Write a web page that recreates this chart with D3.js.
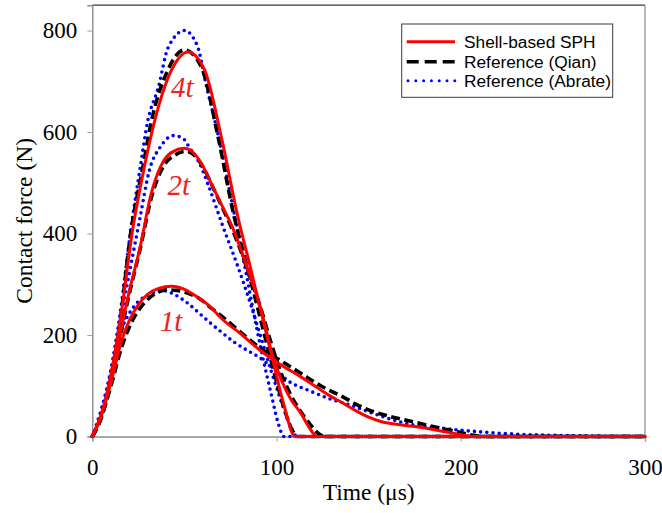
<!DOCTYPE html>
<html>
<head>
<meta charset="utf-8">
<script src="https://cdn.jsdelivr.net/npm/d3@7"></script>
<style>
  html, body { margin: 0; padding: 0; background: #fff; }
  svg { display: block; }
</style>
</head>
<body>
<svg id="chart" width="662" height="513"></svg>
<script>
// ---- data (time in µs, force in N) ----
const xTicks = [0, 100, 200, 300];
const yTicks = [0, 200, 400, 600, 800];
const xTitle = "Time (\u03bcs)";
const yTitle = "Contact force (N)";
const legendNames = ["Shell-based SPH", "Reference (Qian)", "Reference (Abrate)"];

const sph4t = [[0,0],[5,45],[10,120],[15,225],[22,410],[28,527],[34,624],[43,722],[52,758],[61,722],[70,591],[79,433],[85,345],[91,255],[98,150],[104,62],[110,0],[115,0],[300,0]];
const qian4t = [[0,0],[5,40],[10,115],[15,225],[21,405],[27,522],[32,620],[41,722],[50,762],[59,730],[68,595],[77,433],[84,335],[90,250],[97,150],[104,57],[108,16],[112,0],[117,0],[300,0]];
const abrate4t = [[0,0],[5,50],[10,130],[15,240],[21,410],[26,530],[30,620],[36,690],[41,765],[50,800],[57,770],[62,690],[67,615],[72,530],[77,440],[82,350],[87,255],[92,165],[97,85],[101,25],[104,0],[109,0],[300,0]];

const sph2t = [[0,0],[5,42],[10,110],[15,200],[20,285],[26,374],[32,479],[39,545],[44,562],[50,568],[56,555],[60,533],[65,495],[70,458],[76,413],[81,365],[86,312],[91,258],[98,158],[103,108],[108,72],[113,47],[117,22],[120,6],[122,0],[127,0],[300,0]];
const qian2t = [[0,0],[5,38],[10,105],[15,195],[20,280],[26,370],[32,470],[39,535],[45,555],[51,562],[57,548],[61,525],[66,487],[71,448],[76,408],[81,362],[86,310],[91,258],[97,185],[103,120],[108,80],[113,50],[118,25],[122,8],[126,0],[131,0],[300,0]];
const abrate2t = [[0,0],[5,48],[10,125],[15,225],[20,320],[26,433],[31,525],[37,571],[44,593],[49,588],[53,568],[58,540],[63,495],[71,413],[79,335],[86,260],[92,190],[97,130],[102,75],[106,35],[109,10],[111,0],[116,0],[300,0]];

const sph1t = [[0,0],[5,45],[10,105],[16,190],[20,228],[25,260],[30,280],[36,292],[43,296],[50,290],[57,275],[64,256],[70,233],[80,204],[91,170],[102,142],[113,118],[121,99],[129,80],[136,66],[143,51],[150,38],[157,29],[165,24],[174,20],[188,12],[201,3],[206,0],[211,0],[300,0]];
const qian1t = [[0,0],[5,40],[10,98],[16,177],[20,215],[25,248],[30,270],[35,283],[40,289],[46,288],[52,282],[58,272],[65,252],[72,232],[80,207],[91,175],[102,150],[113,125],[124,100],[136,78],[143,64],[151,51],[160,41],[174,29],[188,17],[200,8],[206,3],[212,0],[217,0],[300,0]];
const abrate1t = [[0,0],[5,55],[10,125],[16,212],[20,242],[25,266],[30,278],[35,285],[39,287],[45,279],[52,262],[58,243],[64,224],[70,206],[77,186],[84,170],[91,155],[99,132],[107,108],[118,90],[129,74],[140,62],[152,46],[163,33],[174,23],[188,17],[201,12],[215,8],[228,5],[242,3],[255,2],[270,1],[300,0]];

const caseLabels = ["4t", "2t", "1t"];
const caseLabelPos = [[42.7, 669], [40.8, 476], [36.6, 208]]; // in data units (µs, N)

// ---- chart ----
const svg = d3.select("#chart");
const pL = 92.3, pR = 645, pT = 5.2, pB = 436.5;
const x = d3.scaleLinear().domain([0, 300]).range([pL, pR]);
const y = d3.scaleLinear().domain([0, 850]).range([pB, pT]);

const serif = "'Liberation Serif','Times New Roman',Times,serif";
const sans = "'Liberation Sans',Arial,Helvetica,sans-serif";

// frame
svg.append("line").attr("x1", pL).attr("x2", pR).attr("y1", pT).attr("y2", pT)
  .attr("stroke", "#3a3a3a").attr("stroke-width", 1.2);
svg.append("line").attr("x1", pR).attr("x2", pR).attr("y1", pT).attr("y2", pB)
  .attr("stroke", "#8a8a8a").attr("stroke-width", 1.2);

// axes
const yAxis = d3.axisLeft(y).tickValues(yTicks).tickSize(5).tickPadding(10).tickFormat(d3.format("d"));
const xAxis = d3.axisBottom(x).tickValues(xTicks).tickSize(5).tickPadding(17).tickFormat(d3.format("d"));

const gy = svg.append("g").attr("transform", `translate(${pL},0)`).call(yAxis);
const gx = svg.append("g").attr("transform", `translate(0,${pB})`).call(xAxis);
[gx, gy].forEach(g => {
  g.select(".domain").attr("stroke", "#8c8c8c").attr("stroke-width", 1.4);
  g.selectAll(".tick line").attr("stroke", "#a0a0a0").attr("stroke-width", 1);
  g.selectAll(".tick text").attr("font-family", serif).attr("font-size", 23).attr("fill", "#000");
});

// titles
svg.append("text").attr("x", (pL + pR) / 2).attr("y", 500)
  .attr("text-anchor", "middle").attr("font-family", serif).attr("font-size", 23.5)
  .text(xTitle);
svg.append("text").attr("transform", `translate(32,${(pT + pB) / 2}) rotate(-90)`)
  .attr("text-anchor", "middle").attr("font-family", serif).attr("font-size", 23.5)
  .text(yTitle);

// series
const line = d3.line().x(d => x(d[0])).y(d => y(d[1])).curve(d3.curveMonotoneX);

const styles = {
  abrate: { stroke: "#0000ff", width: 3.6, dash: "0,6.2", cap: "round" },
  qian:   { stroke: "#000000", width: 3.6, dash: "9,4.5", cap: "butt" },
  sph:    { stroke: "#ff0000", width: 3, dash: null, cap: "round" }
};
const layers = [
  ["abrate", [abrate1t, abrate2t, abrate4t]],
  ["qian",   [qian1t, qian2t, qian4t]],
  ["sph",    [sph1t, sph2t, sph4t]]
];
layers.forEach(([key, arr]) => {
  const s = styles[key];
  arr.forEach(data => {
    svg.append("path").datum(data).attr("d", line)
      .attr("fill", "none").attr("stroke", s.stroke).attr("stroke-width", s.width)
      .attr("stroke-linecap", s.cap).attr("stroke-linejoin", "round")
      .attr("stroke-dasharray", s.dash);
  });
});

// case labels
caseLabels.forEach((t, i) => {
  svg.append("text").attr("x", x(caseLabelPos[i][0])).attr("y", y(caseLabelPos[i][1]))
    .attr("font-family", serif).attr("font-style", "italic").attr("font-size", 29)
    .attr("fill", "#ee2020").text(t);
});

// legend
const lg = svg.append("g");
lg.append("rect").attr("x", 401.7).attr("y", 24).attr("width", 211).attr("height", 73.3)
  .attr("fill", "#fff").attr("stroke", "#3a3a3a").attr("stroke-width", 1);
const legStyles = [
  { stroke: "#ff0000", width: 3, dash: null, cap: "butt" },
  { stroke: "#000000", width: 3.6, dash: "12,6", cap: "butt" },
  { stroke: "#0000ff", width: 3, dash: "0,7.8", cap: "round" }
];
const legRows = [41.7, 61.7, 80.7];
legendNames.forEach((name, i) => {
  const s = legStyles[i];
  lg.append("line").attr("x1", i === 2 ? 408 : 406.7).attr("x2", 455).attr("y1", legRows[i]).attr("y2", legRows[i])
    .attr("stroke", s.stroke).attr("stroke-width", s.width).attr("stroke-linecap", s.cap)
    .attr("stroke-dasharray", s.dash);
  lg.append("text").attr("x", 464).attr("y", legRows[i] + 6)
    .attr("font-family", sans).attr("font-size", 17.3).attr("fill", "#000").text(name);
});
</script>
</body>
</html>
